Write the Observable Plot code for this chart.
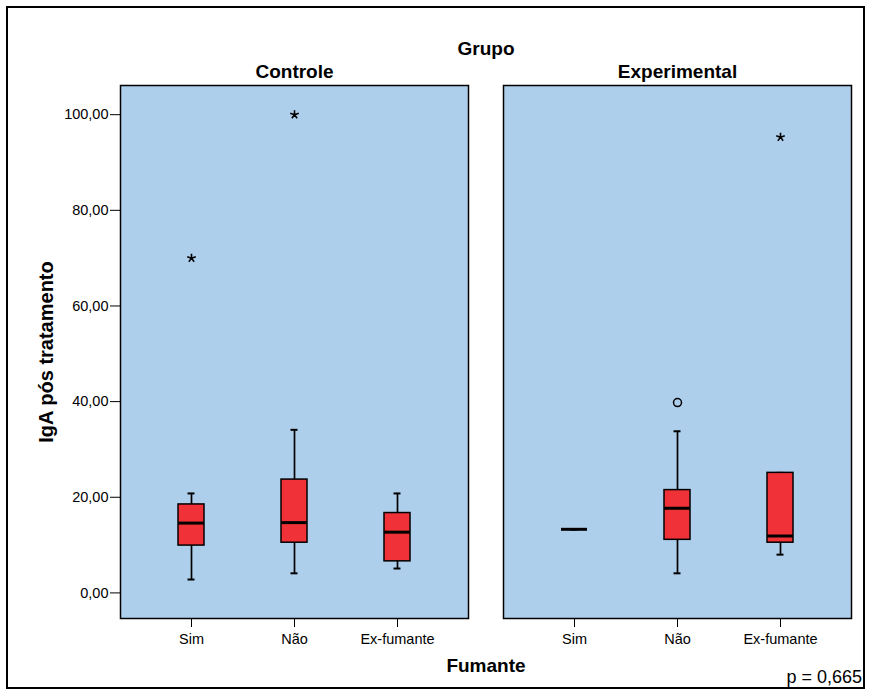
<!DOCTYPE html>
<html>
<head>
<meta charset="utf-8">
<script src="https://cdn.jsdelivr.net/npm/d3@7"></script>
<script src="https://cdn.jsdelivr.net/npm/@observablehq/plot@0.6"></script>
<style>
  html, body { margin: 0; padding: 0; background: #fff; }
  #chart { position: relative; width: 869px; height: 690px; font-family: "Liberation Sans", Arial, sans-serif; }
  #chart svg { position: absolute; left: 0; top: 0; }
  #border { position: absolute; left: 6px; top: 6px; width: 859px; height: 683px; border: 2px solid #000; box-sizing: border-box; pointer-events: none; }
  #pvalue { position: absolute; left: 0; width: 862px; top: 668px; text-align: right; font-size: 18px; line-height: 18px; color: #000; }
</style>
</head>
<body>
<div id="chart">
  <div id="border"></div>
  <div id="pvalue">p = 0,665</div>
</div>
<script>
// Facets (Grupo) and categories (Fumante)
const groups = ["Controle", "Experimental"];
const smoking = ["Sim", "Não", "Ex-fumante"];

// Box summaries, one entry per group × category
const boxGroup    = ["Controle", "Controle", "Controle", "Experimental", "Experimental", "Experimental"];
const boxCategory = ["Sim", "Não", "Ex-fumante", "Sim", "Não", "Ex-fumante"];
const whiskerLow  = [2.8, 4.1, 5.1, 13.3, 4.1, 8.0];
const quartile1   = [9.9, 10.5, 6.6, 13.3, 11.1, 10.5];
const medianValue = [14.6, 14.7, 12.7, 13.3, 17.7, 11.9];
const quartile3   = [18.5, 23.7, 16.7, 13.3, 21.5, 25.1];
const whiskerHigh = [20.8, 34.1, 20.8, 13.3, 33.8, 25.1];

// Extreme values (*)
const extremeGroup    = ["Controle", "Controle", "Experimental"];
const extremeCategory = ["Sim", "Não", "Ex-fumante"];
const extremeValue    = [70, 100, 95.3];

// Outliers (o)
const outlierGroup    = ["Experimental"];
const outlierCategory = ["Não"];
const outlierValue    = [39.8];

// Axis ticks
const yTicks = [0, 20, 40, 60, 80, 100];
const formatTick = d => d.toFixed(2).replace(".", ",");

const panelBlue = "#AECFEC";
const boxRed = "#F03238";

// Five-armed asterisk used for extreme values
const asterisk = {
  draw(context, size) {
    const r = Math.sqrt(size / Math.PI);
    for (let i = 0; i < 5; ++i) {
      const a = -Math.PI / 2 + i * 2 * Math.PI / 5;
      context.moveTo(0, 0);
      context.lineTo(r * Math.cos(a), r * Math.sin(a));
    }
  }
};

const titleFont = {fontSize: 19, fontWeight: "bold"};

const chart = Plot.plot({
  width: 869,
  height: 690,
  marginTop: 85,
  marginBottom: 72,
  marginLeft: 119,
  marginRight: 17,
  style: {fontFamily: "'Liberation Sans', Arial, sans-serif", background: "transparent", color: "#000", overflow: "visible"},
  fx: {domain: groups, paddingInner: 0.091, paddingOuter: 0},
  x: {domain: smoking, type: "band", paddingInner: 0.75, paddingOuter: 0.55},
  y: {domain: [-5.35, 106.1]},
  marks: [
    Plot.frame({fill: panelBlue, stroke: "#000", strokeWidth: 1.5}),
    Plot.axisY({ticks: yTicks, tickFormat: formatTick, tickSize: 10, tickPadding: 2, fontSize: 14.5, label: null}),
    Plot.axisY({ticks: [], tickSize: 0, label: "IgA pós tratamento", labelAnchor: "center", labelArrow: "none", labelOffset: 82, fontSize: 20, fontWeight: "bold", letterSpacing: 0.6}),
    Plot.axisX({tickSize: 9, tickPadding: 6, fontSize: 14.5, label: null}),
    Plot.axisFx({anchor: "top", tickSize: 0, tickPadding: 8, label: null, ...titleFont}),
    Plot.axisFx({anchor: "top", ticks: [], tickSize: 0, label: "Grupo", labelAnchor: "center", labelArrow: "none", labelOffset: 44, ...titleFont}),
    Plot.axisFx({anchor: "bottom", ticks: [], tickSize: 0, label: "Fumante", labelAnchor: "center", labelArrow: "none", labelOffset: 53, ...titleFont}),
    // whiskers
    Plot.ruleX(boxCategory, {fx: boxGroup, x: boxCategory, y1: whiskerLow, y2: whiskerHigh, stroke: "#000", strokeWidth: 1.7}),
    Plot.tickY(boxCategory, {fx: boxGroup, x: boxCategory, y: whiskerLow, stroke: "#000", strokeWidth: 2, insetLeft: 9.5, insetRight: 9.5}),
    Plot.tickY(boxCategory, {fx: boxGroup, x: boxCategory, y: whiskerHigh, stroke: "#000", strokeWidth: 2, insetLeft: 9.5, insetRight: 9.5}),
    // boxes and medians
    Plot.barY(boxCategory, {fx: boxGroup, x: boxCategory, y1: quartile1, y2: quartile3, fill: boxRed, stroke: "#000", strokeWidth: 1.5}),
    Plot.tickY(boxCategory, {fx: boxGroup, x: boxCategory, y: medianValue, stroke: "#000", strokeWidth: 3}),
    // extremes and outliers
    Plot.dot(extremeCategory, {fx: extremeGroup, x: extremeCategory, y: extremeValue, symbol: asterisk, r: 4.5, fill: "none", stroke: "#000", strokeWidth: 1.6}),
    Plot.dot(outlierCategory, {fx: outlierGroup, x: outlierCategory, y: outlierValue, r: 4, fill: "none", stroke: "#000", strokeWidth: 1.5})
  ]
});

document.getElementById("chart").prepend(chart);
</script>
</body>
</html>
